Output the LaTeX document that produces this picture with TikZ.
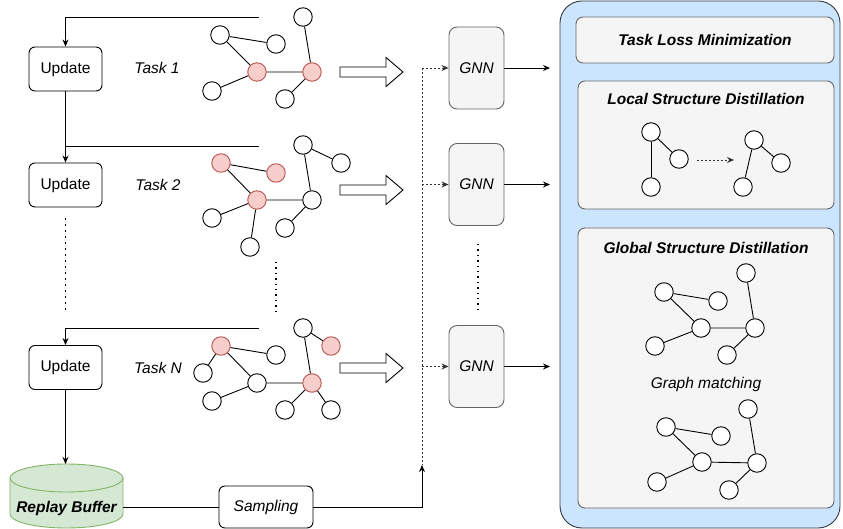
\documentclass[tikz,border=0pt]{standalone}
\usepackage{fontspec}
\setmainfont{Liberation Sans}
\usetikzlibrary{arrows.meta}
\definecolor{redfill}{HTML}{F8CECC}
\definecolor{redline}{HTML}{B85450}
\definecolor{grayfill}{HTML}{F5F5F5}
\definecolor{grayline}{HTML}{666666}
\definecolor{bluefill}{HTML}{CCE5FF}
\definecolor{panelline}{HTML}{36393D}
\definecolor{greenfill}{HTML}{D5E8D4}
\definecolor{greenline}{HTML}{82B366}
\begin{document}
\begin{tikzpicture}[x=1pt,y=-1pt,line width=0.9pt,
  font=\fontsize{15.5}{18}\selectfont,
  vtx/.style={circle,draw,fill=white,minimum size=18.5pt,inner sep=0pt},
  rvtx/.style={vtx,fill=redfill,draw=redline},
  updbox/.style={draw,rounded corners=6pt,minimum width=73pt,minimum height=44pt,inner sep=0pt},
  gnnbox/.style={draw=grayline,fill=grayfill,rounded corners=8pt,minimum width=55pt,minimum height=82pt,inner sep=0pt,font=\fontsize{15.5}{18}\selectfont\itshape},
  greybox/.style={draw=grayline,fill=grayfill,rounded corners=7pt,inner sep=0pt},
  arr/.style={-{Stealth[length=7pt,width=6pt]}},
  dotarr/.style={arr,dash pattern=on 2pt off 2pt,draw=black!80},
  bigdots/.style={line width=1.6pt,dash pattern=on 1.6pt off 4.4pt},
  title/.style={font=\fontsize{15.5}{18}\selectfont\bfseries\itshape},
  tasklbl/.style={font=\fontsize{15.5}{18}\selectfont\itshape},
  barrow/.pic={\draw[fill=white] (0,-5) -- (46,-5) -- (46,-14.5) -- (63,0) -- (46,14.5) -- (46,5) -- (0,5) -- cycle;}
]
\useasboundingbox (0,0) rectangle (843,529);

% ---------- right panel ----------
\node[draw=panelline,fill=bluefill,rounded corners=22pt,minimum width=280pt,minimum height=527pt,inner sep=0pt] (panel) at (700,264.5) {};
\node[greybox,minimum width=258pt,minimum height=46pt,title] (tlm) at (705,40) {Task Loss Minimization};
\node[greybox,minimum width=256pt,minimum height=128pt] (lsd) at (706,145) {};
\node[title] (lsdt) at (706,99) {Local Structure Distillation};
\node[greybox,minimum width=256pt,minimum height=280pt] (gsd) at (706,368) {};
\node[title] (gsdt) at (706,248) {Global Structure Distillation};

% local graphs
\node[vtx] (la) at (651,132) {};
\node[vtx] (lb) at (679,159) {};
\node[vtx] (lc) at (651,187) {};
\draw (la) -- (lb); \draw (la) -- (lc);
\node[vtx] (ld) at (754,140) {};
\node[vtx] (le) at (781,163) {};
\node[vtx] (lf) at (743,187) {};
\draw (ld) -- (le); \draw (ld) -- (lf);
\coordinate (lda) at (697,160);
\coordinate (ldb) at (734,160);
\draw[dotarr] (lda) -- (ldb);

% global graphs
\node[vtx] (g1) at (664,292) {};
\node[vtx] (g2) at (718,301) {};
\node[vtx] (g3) at (746,273) {};
\node[vtx] (g4) at (701,328) {};
\node[vtx] (g5) at (755,328) {};
\node[vtx] (g6) at (655,346) {};
\node[vtx] (g7) at (727,355) {};
\draw (g1)--(g2) (g1)--(g4) (g4)--(g5) (g3)--(g5) (g4)--(g6) (g5)--(g7);
\node[tasklbl] (gm) at (706,384) {Graph matching};
\node[vtx] (h1) at (666,427) {};
\node[vtx] (h2) at (721,436) {};
\node[vtx] (h3) at (748,409) {};
\node[vtx] (h4) at (702,462) {};
\node[vtx] (h5) at (757,463) {};
\node[vtx] (h6) at (657,482) {};
\node[vtx] (h7) at (729,490) {};
\draw (h1)--(h2) (h1)--(h4) (h4)--(h5) (h3)--(h5) (h4)--(h6) (h5)--(h7);

% ---------- update column ----------
\node[updbox] (u1) at (65.5,69) {Update};
\node[updbox] (u2) at (65.5,185) {Update};
\node[updbox] (u3) at (65.5,367.5) {Update};
\coordinate (t1) at (259,17);
\coordinate (t2) at (259,146);
\coordinate (t3) at (259,328);
\coordinate (j2) at (65.5,146);
\draw[arr] (t1) -| (u1.north);
\draw[arr] (u1.south) -- (u2.north);
\draw (t2) -- (j2);
\draw[arr] (t3) -| (u3.north);
\coordinate (d1a) at (65.5,218);
\coordinate (d1b) at (65.5,313);
\draw[bigdots] (d1a) -- (d1b);

% replay buffer
\draw[draw=greenline,fill=greenfill] (10,478) -- (10,514) arc[start angle=180,end angle=360,x radius=56.5pt,y radius=14pt] -- (123,478) -- cycle;
\draw[draw=greenline,fill=greenfill] (66.5,478) ellipse [x radius=56.5pt,y radius=14pt];
\coordinate (buftop) at (65.5,464);
\node[title] (buf) at (66.5,508) {Replay Buffer};
\coordinate (bufe) at (123,507);
\draw[arr] (u3.south) -- (buftop);
\node[draw,rounded corners=6pt,minimum width=94pt,minimum height=42pt,inner sep=0pt,tasklbl] (samp) at (266,507) {Sampling};
\draw (bufe) -- (samp.west);
\coordinate (sc) at (422,507);
\coordinate (sv) at (422,465);
\draw[arr] (samp.east) -- (sc) -- (sv);

% task labels
\node[tasklbl] (lab1) at (157,68) {Task 1};
\node[tasklbl] (lab2) at (158,185) {Task 2};
\node[tasklbl] (labn) at (158,368) {Task N};

% task 1 graph
\node[vtx] (a1) at (220,35) {};
\node[vtx] (a2) at (276,44) {};
\node[vtx] (a3) at (303,17) {};
\node[rvtx] (a4) at (257,72) {};
\node[rvtx] (a5) at (312,72) {};
\node[vtx] (a6) at (212,91) {};
\node[vtx] (a7) at (285,99) {};
\draw (a1)--(a2) (a1)--(a4) (a4)--(a5) (a3)--(a5) (a4)--(a6) (a5)--(a7);

% task 2 graph
\node[rvtx] (b1) at (221,163) {};
\node[rvtx] (b2) at (276,173) {};
\node[vtx] (b3) at (303,145) {};
\node[vtx] (b4) at (341,163) {};
\node[rvtx] (b5) at (257,200) {};
\node[vtx] (b6) at (312,200) {};
\node[vtx] (b7) at (212,218) {};
\node[vtx] (b8) at (285,228) {};
\node[vtx] (b9) at (250,247) {};
\draw (b1)--(b2) (b1)--(b5) (b5)--(b6) (b3)--(b6) (b3)--(b4) (b5)--(b7) (b5)--(b9) (b6)--(b8);
\coordinate (d2a) at (276,262);
\coordinate (d2b) at (276,313);
\draw[dash pattern=on 1.4pt off 4pt,line width=1.4pt] (d2a) -- (d2b);

% task N graph
\node[vtx] (c1) at (303,328) {};
\node[rvtx] (c2) at (331,346) {};
\node[rvtx] (c3) at (221,346) {};
\node[vtx] (c4) at (276,355) {};
\node[vtx] (c5) at (203,373) {};
\node[vtx] (c6) at (257,383) {};
\node[rvtx] (c7) at (312,383) {};
\node[vtx] (c8) at (212,401) {};
\node[vtx] (c9) at (285,410) {};
\node[vtx] (c10) at (331,410) {};
\draw (c1)--(c2) (c1)--(c7) (c3)--(c4) (c3)--(c5) (c3)--(c6) (c6)--(c7) (c6)--(c8) (c7)--(c9) (c7)--(c10);

% block arrows
\pic at (340,72) {barrow};
\pic at (340,190) {barrow};
\pic at (340,368) {barrow};

% GNNs
\node[gnnbox] (n1) at (476.5,68) {GNN};
\node[gnnbox] (n2) at (476.5,184.5) {GNN};
\node[gnnbox] (n3) at (476.5,366.5) {GNN};
\coordinate (v1) at (422,68);
\coordinate (v2) at (422,184.5);
\coordinate (v3) at (422,366.5);
\draw[dash pattern=on 2pt off 2pt,draw=black!80] (v1) -- (sv);
\draw[dotarr] (v1) -- (n1.west);
\draw[dotarr] (v2) -- (n2.west);
\draw[dotarr] (v3) -- (n3.west);
\coordinate (o1) at (550,68);
\coordinate (o2) at (550,184.5);
\coordinate (o3) at (550,366.5);
\draw[arr] (n1.east) -- (o1);
\draw[arr] (n2.east) -- (o2);
\draw[arr] (n3.east) -- (o3);
\coordinate (d3a) at (478,244);
\coordinate (d3b) at (478,312);
\draw[dash pattern=on 1.4pt off 4pt,line width=1.4pt] (d3a) -- (d3b);
\end{tikzpicture}
\end{document}
